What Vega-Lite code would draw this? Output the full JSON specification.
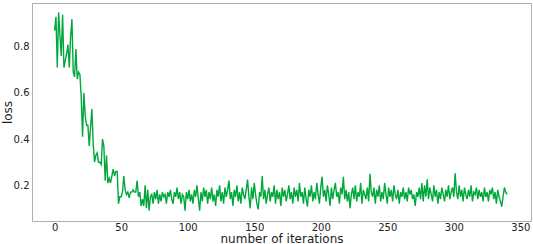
{
  "$schema": "https://vega.github.io/schema/vega-lite/v6.json",
  "autosize": {"type": "none"},
  "width": 499,
  "height": 218,
  "padding": {"left": 32, "top": 3, "right": 2, "bottom": 23},
  "config": {
    "view": {"stroke": "#b0b0b0", "strokeWidth": 1},
    "font": "DejaVu Sans",
    "axis": {"domain": false, "ticks": false, "grid": false, "labelFont": "DejaVu Sans", "titleFont": "DejaVu Sans", "labelColor": "#222222", "titleColor": "#222222", "titleFontWeight": "normal"}
  },
  "data": {"values": [
    {"it":0,"loss":0.87},{"it":1,"loss":0.93},{"it":2,"loss":0.71},{"it":3,"loss":0.95},{"it":4,"loss":0.85},
    {"it":5,"loss":0.76},{"it":6,"loss":0.94},{"it":7,"loss":0.71},{"it":8,"loss":0.74},{"it":9,"loss":0.77},
    {"it":10,"loss":0.81},{"it":11,"loss":0.71},{"it":12,"loss":0.84},{"it":13,"loss":0.92},{"it":14,"loss":0.69},
    {"it":15,"loss":0.67},{"it":16,"loss":0.79},{"it":17,"loss":0.66},{"it":18,"loss":0.69},{"it":19,"loss":0.68},
    {"it":20,"loss":0.58},{"it":21,"loss":0.41},{"it":22,"loss":0.6},{"it":23,"loss":0.5},{"it":24,"loss":0.46},
    {"it":25,"loss":0.46},{"it":26,"loss":0.37},{"it":27,"loss":0.45},{"it":28,"loss":0.53},{"it":29,"loss":0.38},
    {"it":30,"loss":0.3},{"it":31,"loss":0.33},{"it":32,"loss":0.34},{"it":33,"loss":0.3},{"it":34,"loss":0.3},
    {"it":35,"loss":0.29},{"it":36,"loss":0.4},{"it":37,"loss":0.37},{"it":38,"loss":0.22},{"it":39,"loss":0.33},
    {"it":40,"loss":0.21},{"it":41,"loss":0.23},{"it":42,"loss":0.21},{"it":43,"loss":0.24},{"it":44,"loss":0.27},
    {"it":45,"loss":0.24},{"it":46,"loss":0.26},{"it":47,"loss":0.26},{"it":48,"loss":0.12},{"it":49,"loss":0.15},
    {"it":50,"loss":0.15},{"it":51,"loss":0.17},{"it":52,"loss":0.24},{"it":53,"loss":0.18},{"it":54,"loss":0.16},
    {"it":55,"loss":0.17},{"it":56,"loss":0.145},{"it":57,"loss":0.17},{"it":58,"loss":0.17},{"it":59,"loss":0.18},
    {"it":60,"loss":0.17},{"it":61,"loss":0.17},{"it":62,"loss":0.22},{"it":63,"loss":0.15},{"it":64,"loss":0.17},
    {"it":65,"loss":0.11},{"it":66,"loss":0.14},{"it":67,"loss":0.11},{"it":68,"loss":0.2},{"it":69,"loss":0.1},
    {"it":70,"loss":0.18},{"it":71,"loss":0.09},{"it":72,"loss":0.15},
    {"it":73,"loss":0.16},{"it":74,"loss":0.12},{"it":75,"loss":0.17},{"it":76,"loss":0.14},{"it":77,"loss":0.18},
    {"it":78,"loss":0.12},{"it":79,"loss":0.16},{"it":80,"loss":0.13},{"it":81,"loss":0.17},{"it":82,"loss":0.15},
    {"it":83,"loss":0.16},{"it":84,"loss":0.12},{"it":85,"loss":0.17},{"it":86,"loss":0.15},{"it":87,"loss":0.18},
    {"it":88,"loss":0.14},{"it":89,"loss":0.12},{"it":90,"loss":0.17},{"it":91,"loss":0.15},{"it":92,"loss":0.19},
    {"it":93,"loss":0.14},{"it":94,"loss":0.17},{"it":95,"loss":0.12},{"it":96,"loss":0.16},{"it":97,"loss":0.15},
    {"it":98,"loss":0.09},{"it":99,"loss":0.17},{"it":100,"loss":0.14},{"it":101,"loss":0.18},{"it":102,"loss":0.13},
    {"it":103,"loss":0.16},{"it":104,"loss":0.12},{"it":105,"loss":0.18},{"it":106,"loss":0.15},{"it":107,"loss":0.2},
    {"it":108,"loss":0.14},{"it":109,"loss":0.09},{"it":110,"loss":0.17},{"it":111,"loss":0.13},{"it":112,"loss":0.19},
    {"it":113,"loss":0.15},{"it":114,"loss":0.18},{"it":115,"loss":0.12},{"it":116,"loss":0.17},{"it":117,"loss":0.14},
    {"it":118,"loss":0.19},{"it":119,"loss":0.13},{"it":120,"loss":0.16},{"it":121,"loss":0.11},{"it":122,"loss":0.18},
    {"it":123,"loss":0.15},{"it":124,"loss":0.2},{"it":125,"loss":0.13},{"it":126,"loss":0.17},{"it":127,"loss":0.12},
    {"it":128,"loss":0.19},{"it":129,"loss":0.15},{"it":130,"loss":0.18},{"it":131,"loss":0.22},{"it":132,"loss":0.14},
    {"it":133,"loss":0.17},{"it":134,"loss":0.11},{"it":135,"loss":0.18},{"it":136,"loss":0.15},{"it":137,"loss":0.2},
    {"it":138,"loss":0.13},{"it":139,"loss":0.17},{"it":140,"loss":0.12},{"it":141,"loss":0.19},{"it":142,"loss":0.16},
    {"it":143,"loss":0.14},{"it":144,"loss":0.18},{"it":145,"loss":0.225},{"it":146,"loss":0.15},{"it":147,"loss":0.1},
    {"it":148,"loss":0.19},{"it":149,"loss":0.14},{"it":150,"loss":0.21},{"it":151,"loss":0.16},{"it":152,"loss":0.12},
    {"it":153,"loss":0.095},{"it":154,"loss":0.17},{"it":155,"loss":0.15},{"it":156,"loss":0.24},{"it":157,"loss":0.14},
    {"it":158,"loss":0.18},{"it":159,"loss":0.12},{"it":160,"loss":0.16},{"it":161,"loss":0.19},{"it":162,"loss":0.13},
    {"it":163,"loss":0.17},{"it":164,"loss":0.15},{"it":165,"loss":0.2},{"it":166,"loss":0.12},{"it":167,"loss":0.18},
    {"it":168,"loss":0.14},{"it":169,"loss":0.17},{"it":170,"loss":0.11},{"it":171,"loss":0.19},{"it":172,"loss":0.15},
    {"it":173,"loss":0.18},{"it":174,"loss":0.13},{"it":175,"loss":0.16},{"it":176,"loss":0.2},{"it":177,"loss":0.14},
    {"it":178,"loss":0.17},{"it":179,"loss":0.12},{"it":180,"loss":0.19},{"it":181,"loss":0.15},{"it":182,"loss":0.18},
    {"it":183,"loss":0.13},{"it":184,"loss":0.21},{"it":185,"loss":0.15},{"it":186,"loss":0.17},{"it":187,"loss":0.12},
    {"it":188,"loss":0.19},{"it":189,"loss":0.14},{"it":190,"loss":0.107},{"it":191,"loss":0.18},{"it":192,"loss":0.15},
    {"it":193,"loss":0.2},{"it":194,"loss":0.13},{"it":195,"loss":0.17},{"it":196,"loss":0.14},{"it":197,"loss":0.21},
    {"it":198,"loss":0.16},{"it":199,"loss":0.12},{"it":200,"loss":0.19},{"it":201,"loss":0.237},{"it":202,"loss":0.15},
    {"it":203,"loss":0.18},{"it":204,"loss":0.13},{"it":205,"loss":0.2},{"it":206,"loss":0.16},{"it":207,"loss":0.11},
    {"it":208,"loss":0.19},{"it":209,"loss":0.14},{"it":210,"loss":0.18},{"it":211,"loss":0.21},{"it":212,"loss":0.15},
    {"it":213,"loss":0.17},{"it":214,"loss":0.12},{"it":215,"loss":0.19},{"it":216,"loss":0.16},{"it":217,"loss":0.237},
    {"it":218,"loss":0.14},{"it":219,"loss":0.18},{"it":220,"loss":0.13},{"it":221,"loss":0.17},{"it":222,"loss":0.1},
    {"it":223,"loss":0.16},{"it":224,"loss":0.19},{"it":225,"loss":0.14},{"it":226,"loss":0.2},{"it":227,"loss":0.13},
    {"it":228,"loss":0.17},{"it":229,"loss":0.15},{"it":230,"loss":0.21},{"it":231,"loss":0.12},{"it":232,"loss":0.18},
    {"it":233,"loss":0.16},{"it":234,"loss":0.14},{"it":235,"loss":0.19},{"it":236,"loss":0.13},{"it":237,"loss":0.25},
    {"it":238,"loss":0.17},{"it":239,"loss":0.15},{"it":240,"loss":0.19},{"it":241,"loss":0.12},{"it":242,"loss":0.18},
    {"it":243,"loss":0.15},{"it":244,"loss":0.2},{"it":245,"loss":0.13},{"it":246,"loss":0.17},{"it":247,"loss":0.14},
    {"it":248,"loss":0.21},{"it":249,"loss":0.16},{"it":250,"loss":0.12},{"it":251,"loss":0.19},{"it":252,"loss":0.15},
    {"it":253,"loss":0.18},{"it":254,"loss":0.13},{"it":255,"loss":0.2},{"it":256,"loss":0.16},{"it":257,"loss":0.14},
    {"it":258,"loss":0.18},{"it":259,"loss":0.12},{"it":260,"loss":0.17},{"it":261,"loss":0.15},{"it":262,"loss":0.19},
    {"it":263,"loss":0.14},{"it":264,"loss":0.17},{"it":265,"loss":0.13},{"it":266,"loss":0.19},{"it":267,"loss":0.16},
    {"it":268,"loss":0.18},{"it":269,"loss":0.14},{"it":270,"loss":0.16},{"it":271,"loss":0.11},{"it":272,"loss":0.17},
    {"it":273,"loss":0.15},{"it":274,"loss":0.19},{"it":275,"loss":0.14},{"it":276,"loss":0.21},{"it":277,"loss":0.13},
    {"it":278,"loss":0.2},{"it":279,"loss":0.15},{"it":280,"loss":0.226},{"it":281,"loss":0.14},{"it":282,"loss":0.19},
    {"it":283,"loss":0.16},{"it":284,"loss":0.13},{"it":285,"loss":0.2},{"it":286,"loss":0.15},{"it":287,"loss":0.18},
    {"it":288,"loss":0.12},{"it":289,"loss":0.17},{"it":290,"loss":0.14},{"it":291,"loss":0.19},{"it":292,"loss":0.16},
    {"it":293,"loss":0.13},{"it":294,"loss":0.18},{"it":295,"loss":0.15},{"it":296,"loss":0.2},{"it":297,"loss":0.14},
    {"it":298,"loss":0.17},{"it":299,"loss":0.19},{"it":300,"loss":0.15},{"it":301,"loss":0.252},{"it":302,"loss":0.17},
    {"it":303,"loss":0.14},{"it":304,"loss":0.2},{"it":305,"loss":0.15},{"it":306,"loss":0.18},{"it":307,"loss":0.13},
    {"it":308,"loss":0.19},{"it":309,"loss":0.16},{"it":310,"loss":0.14},{"it":311,"loss":0.18},{"it":312,"loss":0.15},
    {"it":313,"loss":0.2},{"it":314,"loss":0.13},{"it":315,"loss":0.17},{"it":316,"loss":0.16},{"it":317,"loss":0.19},
    {"it":318,"loss":0.14},{"it":319,"loss":0.18},{"it":320,"loss":0.15},{"it":321,"loss":0.17},{"it":322,"loss":0.13},
    {"it":323,"loss":0.19},{"it":324,"loss":0.15},{"it":325,"loss":0.17},{"it":326,"loss":0.13},{"it":327,"loss":0.18},
    {"it":328,"loss":0.16},{"it":329,"loss":0.19},{"it":330,"loss":0.14},{"it":331,"loss":0.17},{"it":332,"loss":0.12},
    {"it":333,"loss":0.18},{"it":334,"loss":0.15},{"it":335,"loss":0.13},{"it":336,"loss":0.107},{"it":337,"loss":0.15},
    {"it":338,"loss":0.19},{"it":339,"loss":0.17},{"it":340,"loss":0.16}
  ]},
  "mark": {"type": "line", "color": "#00a83c", "strokeWidth": 1.4},
  "encoding": {
    "x": {"field": "it", "type": "quantitative", "title": "number of iterations",
      "scale": {"domain": [-17, 358], "nice": false, "zero": false},
      "axis": {"values": [0, 50, 100, 150, 200, 250, 300, 350], "labelFontSize": 10, "labelPadding": 1, "titleFontSize": 12, "titleY": 21, "titleBaseline": "alphabetic"}},
    "y": {"field": "loss", "type": "quantitative", "title": "loss",
      "scale": {"domain": [0.045, 0.99], "nice": false, "zero": false},
      "axis": {"values": [0.2, 0.4, 0.6, 0.8], "format": ".1f", "labelFontSize": 10, "labelPadding": 3, "titleFontSize": 12, "titleX": -18, "titleBaseline": "bottom"}}
  }
}
